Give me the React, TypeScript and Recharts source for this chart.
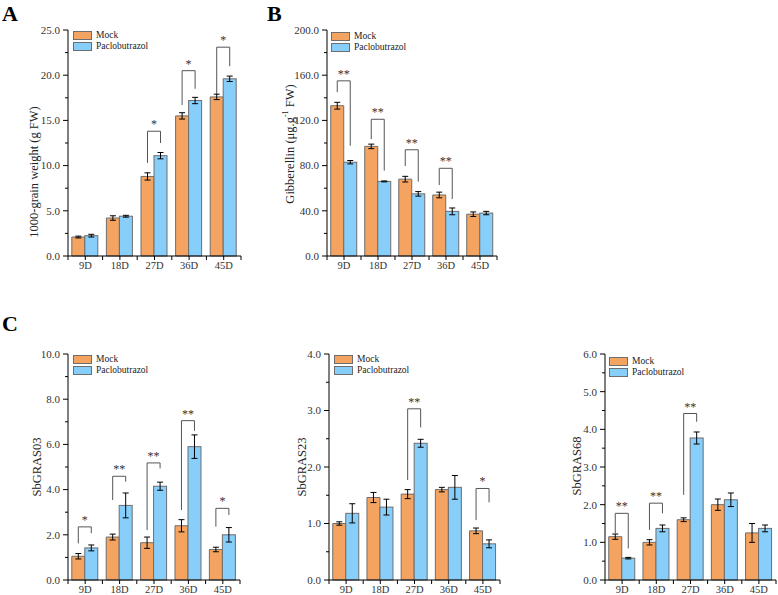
import React from 'react';
import { BarChart, Bar, XAxis, YAxis, ErrorBar, Legend } from 'recharts';

const FONT = '"Liberation Serif", "Times New Roman", Times, serif';
const ORANGE = '#F4A460';
const BLUE = '#87CEFA';
const EDGE = '#6E6E6E';

const days = ['9D', '18D', '27D', '36D', '45D'];

type Sig = { top: number; l: number; r: number; mark: string } | null;

// Panel A: 1000-grain weight
const weightMock = [2.1, 4.2, 8.8, 15.5, 17.6];
const weightMockErr = [0.1, 0.25, 0.4, 0.35, 0.3];
const weightPac = [2.25, 4.4, 11.1, 17.2, 19.6];
const weightPacErr = [0.15, 0.1, 0.35, 0.35, 0.3];
const weightSig: Sig[] = [null, null, { top: 13.8, l: 10.3, r: 12.5, mark: '*' }, { top: 20.5, l: 16.7, r: 18.5, mark: '*' }, { top: 23.1, l: 17.8, r: 21.0, mark: '*' }];
const weightTicks = [0, 2.5, 5, 7.5, 10, 12.5, 15, 17.5, 20, 22.5, 25];

// Panel B: Gibberellin
const gaMock = [133, 97, 68, 54, 37];
const gaMockErr = [3, 2, 2.5, 2.5, 2];
const gaPac = [83, 66, 55, 39.5, 38];
const gaPacErr = [1.5, 0.4, 2, 3, 1.5];
const gaSig: Sig[] = [{ top: 155, l: 145, r: 97.6, mark: '**' }, { top: 121, l: 103.5, r: 75.5, mark: '**' }, { top: 94, l: 79.6, r: 65.8, mark: '**' }, { top: 77.6, l: 62.8, r: 50.4, mark: '**' }, null];
const gaTicks = [0, 20, 40, 60, 80, 100, 120, 140, 160, 180, 200];

// Panel C: SbGRAS03
const g03Mock = [1.05, 1.9, 1.65, 2.4, 1.35];
const g03MockErr = [0.12, 0.13, 0.25, 0.27, 0.1];
const g03Pac = [1.42, 3.3, 4.15, 5.9, 2.0];
const g03PacErr = [0.13, 0.55, 0.18, 0.52, 0.32];
const g03Sig: Sig[] = [{ top: 2.35, l: 1.62, r: 2.07, mark: '*' }, { top: 4.59, l: 3.54, r: 4.35, mark: '**' }, { top: 5.18, l: 2.21, r: 4.94, mark: '**' }, { top: 7.05, l: 3.1, r: 6.6, mark: '**' }, { top: 3.17, l: 2.36, r: 2.88, mark: '*' }];
const g03Ticks = [0, 1, 2, 3, 4, 5, 6, 7, 8, 9, 10];

// SbGRAS23
const g23Mock = [1.0, 1.46, 1.52, 1.6, 0.87];
const g23MockErr = [0.03, 0.09, 0.08, 0.04, 0.05];
const g23Pac = [1.18, 1.29, 2.42, 1.64, 0.64];
const g23PacErr = [0.17, 0.14, 0.07, 0.21, 0.07];
const g23Sig: Sig[] = [null, null, { top: 3.03, l: 1.77, r: 2.7, mark: '**' }, null, { top: 1.62, l: 1.06, r: 1.375, mark: '*' }];
const g23Ticks = [0, 0.5, 1, 1.5, 2, 2.5, 3, 3.5, 4];

// SbGRAS68
const g68Mock = [1.15, 1.0, 1.6, 2.0, 1.25];
const g68MockErr = [0.07, 0.07, 0.05, 0.15, 0.25];
const g68Pac = [0.58, 1.37, 3.77, 2.13, 1.37];
const g68PacErr = [0.02, 0.09, 0.16, 0.18, 0.09];
const g68Sig: Sig[] = [{ top: 1.77, l: 1.24, r: 0.84, mark: '**' }, { top: 2.04, l: 1.33, r: 1.77, mark: '**' }, { top: 4.42, l: 2.26, r: 4.2, mark: '**' }, null, null];
const g68Ticks = [0, 0.5, 1, 1.5, 2, 2.5, 3, 3.5, 4, 4.5, 5, 5.5, 6];

const seriesNames = ['Mock', 'Paclobutrazol'];

interface PanelProps {
  left: number; top: number; width: number; height: number;
  plotL: number; plotR: number; plotT: number; plotB: number;
  mock: number[]; mockErr: number[]; pac: number[]; pacErr: number[];
  sig: Sig[]; ticks: number[]; majorStep: number;
  yLabel: React.ReactNode; yLabelX: number; yLabelY: number;
  legendX: number; legendY: number;
}

const LegendBox = () => (
  <div style={{ fontFamily: FONT, fontSize: 9.5, color: '#222', lineHeight: '11px' }}>
    {seriesNames.map((n, i) => (
      <div key={n} style={{ display: 'flex', alignItems: 'center', height: 11 }}>
        <span style={{ display: 'inline-block', width: 17, height: 7, background: i === 0 ? ORANGE : BLUE, border: `1px solid ${EDGE}`, marginRight: 4 }} />
        <span>{n}</span>
      </div>
    ))}
  </div>
);

function Panel(p: PanelProps) {
  const YW = 50;
  const XH = 15;
  const margin = {
    top: p.plotT - p.top,
    bottom: p.top + p.height - p.plotB - XH,
    left: p.plotL - p.left - YW,
    right: p.left + p.width - p.plotR,
  };
  const data = days.map((d, i) => ({ day: d, mock: p.mock[i], mockErr: p.mockErr[i], pac: p.pac[i], pacErr: p.pacErr[i] }));
  const band = (p.plotR - p.plotL) / days.length;
  const yMax = p.ticks[p.ticks.length - 1];
  const isMajor = (v: number) => Math.abs(v / p.majorStep - Math.round(v / p.majorStep)) < 1e-6;

  const yTick = (props: any) => {
    const { x, y, payload } = props;
    const v = payload.value as number;
    const major = isMajor(v);
    return (
      <g>
        <line x1={x - (major ? 5 : 3)} x2={x} y1={y} y2={y} stroke="#000" strokeWidth={1} />
        {major && (
          <text x={x - 8} y={y} dy="0.35em" textAnchor="end" fontFamily={FONT} fontSize={11} fill="#333">
            {v.toFixed(1)}
          </text>
        )}
      </g>
    );
  };

  const xTick = (props: any) => {
    const { x, y, payload, index } = props;
    return (
      <g>
        <line x1={x} x2={x} y1={y} y2={y + 4} stroke="#000" strokeWidth={1} />
        <line x1={x - band / 2} x2={x - band / 2} y1={y} y2={y + 4} stroke="#000" strokeWidth={1} />
        {index === days.length - 1 && (
          <line x1={x + band / 2} x2={x + band / 2} y1={y} y2={y + 4} stroke="#000" strokeWidth={1} />
        )}
        <text x={x} y={y + 13} textAnchor="middle" fontFamily={FONT} fontSize={10.5} fill="#333">
          {payload.value}
        </text>
      </g>
    );
  };

  const pacShape = (props: any) => {
    const { x, y, width, height, index, payload } = props;
    const base = y + height;
    const val = payload.pac as number;
    const px = (v: number) => base - (height * v) / val;
    const s = p.sig[index];
    const mx = x - width / 2;
    const pcx = x + width / 2;
    return (
      <g>
        <rect x={x} y={y} width={width} height={height} fill={BLUE} stroke={EDGE} strokeWidth={1} />
        {s && (
          <g>
            <path d={`M${mx},${px(s.l)}V${px(s.top)}H${pcx}V${px(s.r)}`} fill="none" stroke="#555" strokeWidth={1} />
            <text x={(mx + pcx) / 2} y={px(s.top) - 3} textAnchor="middle" fontFamily={FONT} fontSize={12} fill="#333">
              {s.mark}
            </text>
          </g>
        )}
      </g>
    );
  };

  const lx = p.yLabelX - p.left;
  const ly = p.yLabelY - p.top;
  const YLab = () => (
    <text x={lx} y={ly} transform={`rotate(-90 ${lx} ${ly})`} textAnchor="middle" dominantBaseline="central" fontFamily={FONT} fontSize={12.5} fill="#222">
      {p.yLabel}
    </text>
  );

  return (
    <div style={{ position: 'absolute', left: p.left, top: p.top, width: p.width, height: p.height }}>
      <BarChart width={p.width} height={p.height} data={data} margin={margin} barCategoryGap="11%" barGap={0}>
        <XAxis dataKey="day" height={XH} tickLine={false} tickSize={0} tickMargin={0} axisLine={{ stroke: '#000' }} interval={0} tick={xTick} />
        <YAxis type="number" width={YW} domain={[0, yMax]} ticks={p.ticks} interval={0} tickLine={false} tickSize={0} tickMargin={0} axisLine={{ stroke: '#000' }} tick={yTick} label={<YLab />} />
        <Legend layout="vertical" align="center" verticalAlign="middle" wrapperStyle={{ left: p.legendX - p.left, top: p.legendY - p.top, width: 'auto', height: 'auto' }} content={() => <LegendBox />} />
        <Bar dataKey="mock" name="Mock" fill={ORANGE} stroke={EDGE} strokeWidth={1} isAnimationActive={false}>
          <ErrorBar dataKey="mockErr" width={3} stroke="#000" strokeWidth={1} />
        </Bar>
        <Bar dataKey="pac" name="Paclobutrazol" fill={BLUE} stroke={EDGE} strokeWidth={1} isAnimationActive={false} shape={pacShape}>
          <ErrorBar dataKey="pacErr" width={3} stroke="#000" strokeWidth={1} />
        </Bar>
      </BarChart>
    </div>
  );
}

const letterStyle = (left: number, top: number): React.CSSProperties => ({
  position: 'absolute', left, top, fontFamily: FONT, fontWeight: 'bold', fontSize: 22, lineHeight: '22px', color: '#000',
});

export default function App() {
  return (
    <div style={{ position: 'absolute', left: 0, top: 0, width: 778, height: 595, background: '#fff', overflow: 'hidden' }}>
      <div style={letterStyle(2, 3)}>A</div>
      <div style={letterStyle(267, 3)}>B</div>
      <div style={letterStyle(2, 313)}>C</div>
      <Panel left={0} top={0} width={255} height={295} plotL={68} plotR={241} plotT={30} plotB={256}
        mock={weightMock} mockErr={weightMockErr} pac={weightPac} pacErr={weightPacErr} sig={weightSig}
        ticks={weightTicks} majorStep={5} yLabel="1000-grain weight (g FW)" yLabelX={34} yLabelY={172}
        legendX={73} legendY={30} />
      <Panel left={255} top={0} width={265} height={295} plotL={327} plotR={497} plotT={30} plotB={256}
        mock={gaMock} mockErr={gaMockErr} pac={gaPac} pacErr={gaPacErr} sig={gaSig}
        ticks={gaTicks} majorStep={40}
        yLabel={<>Gibberellin (μg.g<tspan dy={-5} fontSize={8}>-1</tspan><tspan dy={5}> FW)</tspan></>}
        yLabelX={290} yLabelY={144} legendX={331} legendY={31} />
      <Panel left={0} top={300} width={255} height={295} plotL={68} plotR={240} plotT={354} plotB={580}
        mock={g03Mock} mockErr={g03MockErr} pac={g03Pac} pacErr={g03PacErr} sig={g03Sig}
        ticks={g03Ticks} majorStep={2} yLabel="SbGRAS03" yLabelX={37} yLabelY={467}
        legendX={73} legendY={354} />
      <Panel left={255} top={300} width={260} height={295} plotL={329} plotR={500} plotT={354} plotB={580}
        mock={g23Mock} mockErr={g23MockErr} pac={g23Pac} pacErr={g23PacErr} sig={g23Sig}
        ticks={g23Ticks} majorStep={1} yLabel="SbGRAS23" yLabelX={302} yLabelY={467}
        legendX={334} legendY={354} />
      <Panel left={515} top={300} width={263} height={295} plotL={605} plotR={776} plotT={354} plotB={580}
        mock={g68Mock} mockErr={g68MockErr} pac={g68Pac} pacErr={g68PacErr} sig={g68Sig}
        ticks={g68Ticks} majorStep={1} yLabel="SbGRAS68" yLabelX={577} yLabelY={466}
        legendX={609} legendY={356} />
    </div>
  );
}
